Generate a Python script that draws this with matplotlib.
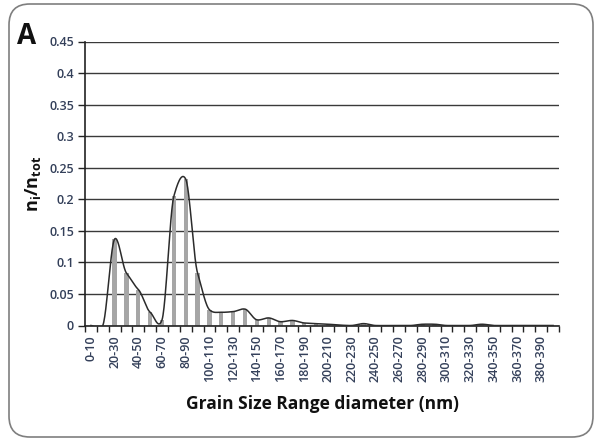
import numpy as np
import matplotlib
matplotlib.use("Agg")
import matplotlib.pyplot as plt
from matplotlib.patches import FancyBboxPatch

# ---- data ----
categories = [f"{a}-{a+10}" for a in range(0, 400, 10)]
fractions = [0.0, 0.0, 0.137, 0.083, 0.057, 0.021, 0.009, 0.205, 0.232, 0.083,
             0.025, 0.021, 0.022, 0.026, 0.009, 0.012, 0.006, 0.008, 0.004, 0.003,
             0.002, 0.0006, 0.0, 0.003, 0.0, 0.0, 0.0, 0.0, 0.002, 0.002,
             0.0, 0.0, 0.0, 0.002, 0.0, 0.0, 0.0, 0.0, 0.0, 0.0]
y_ticks = [0, 0.05, 0.1, 0.15, 0.2, 0.25, 0.3, 0.35, 0.4, 0.45]
y_tick_labels = ["0", "0.05", "0.1", "0.15", "0.2", "0.25", "0.3", "0.35", "0.4", "0.45"]

plt.rcParams['font.family'] = ['Open Sans', 'DejaVu Sans']
plt.rcParams['mathtext.fontset'] = 'custom'
plt.rcParams['mathtext.rm'] = 'Open Sans'
plt.rcParams['mathtext.bf'] = 'Open Sans:bold'
plt.rcParams['mathtext.it'] = 'Open Sans:bold'


def cardinal_spline(xs, ys, c=0.6, n=24):
    xs = np.asarray(xs, float)
    ys = np.asarray(ys, float)
    m = np.zeros_like(ys)
    m[1:-1] = c * (ys[2:] - ys[:-2]) / 2.0
    m[0] = c * (ys[1] - ys[0])
    m[-1] = c * (ys[-1] - ys[-2])
    t = np.linspace(0, 1, n, endpoint=False)
    h00 = 2 * t**3 - 3 * t**2 + 1
    h10 = t**3 - 2 * t**2 + t
    h01 = -2 * t**3 + 3 * t**2
    h11 = t**3 - t**2
    outx, outy = [], []
    for i in range(len(xs) - 1):
        dx = xs[i + 1] - xs[i]
        outx.extend(xs[i] + t * dx)
        outy.extend(h00 * ys[i] + h10 * m[i] + h01 * ys[i + 1] + h11 * m[i + 1])
    outx.append(xs[-1])
    outy.append(ys[-1])
    return np.array(outx), np.array(outy)


W, H = 595, 443
fig = plt.figure(figsize=(W / 100, H / 100), dpi=100)
fig.patch.set_facecolor('white')

# rounded frame
frame = FancyBboxPatch((9 / W, 6 / H), (584 / W), (433 / H),
                       boxstyle="round,pad=0,rounding_size=0.035",
                       transform=fig.transFigure, facecolor='none',
                       edgecolor='#7f7f7f', linewidth=1.2, mutation_aspect=W / H)
fig.patches.append(frame)

ax = fig.add_axes([85 / W, 1 - 325.5 / H, 474 / W, 284 / H])
x = np.arange(len(categories))
ax.bar(x, fractions, width=0.36, color='#a6a6a6', zorder=2)
sx, sy = cardinal_spline(x, fractions, c=0.6)
ax.plot(sx, sy, color='#2b2b2b', linewidth=1.1, zorder=3)

ax.set_xlim(-0.5, len(categories) - 0.5)
ax.set_ylim(0, 0.45)

ax.set_yticks(y_ticks)
ax.set_yticklabels(y_tick_labels)
ax.yaxis.grid(True, color='#3a3a3a', linewidth=1.0, zorder=0)
ax.set_axisbelow(True)

label_pos = x[::2]
ax.set_xticks(label_pos)
ax.set_xticklabels([categories[i] for i in label_pos], rotation=90)
ax.set_xticks(np.arange(len(categories) + 1) - 0.5, minor=True)
ax.tick_params(axis='x', which='major', length=0, pad=7)
ax.tick_params(axis='x', which='minor', length=4, width=1, color='#222222', direction='out')
ax.tick_params(axis='y', length=5, width=1, color='#222222', direction='out', pad=3)
for lab in ax.get_xticklabels() + ax.get_yticklabels():
    lab.set_fontsize(9)
    lab.set_color('#34405a')
    lab.set_fontweight('semibold')

for s in ['top', 'right']:
    ax.spines[s].set_visible(False)
ax.spines['left'].set_color('#222222')
ax.spines['bottom'].set_color('#222222')
ax.spines['left'].set_linewidth(1.2)
ax.spines['bottom'].set_linewidth(1.2)

ax.set_xlabel('Grain Size Range diameter (nm)', fontsize=12.5, fontweight='bold',
              color='#111111', labelpad=9)
ax.set_ylabel(r'$\mathbf{n_i/n_{tot}}$', fontsize=13, color='#111111', labelpad=4)

fig.text(17 / W, 1 - 44 / H, 'A', fontsize=20, fontweight='bold', color='#111111',
         va='baseline', ha='left')

fig.savefig('out.png', dpi=100, facecolor='white')
